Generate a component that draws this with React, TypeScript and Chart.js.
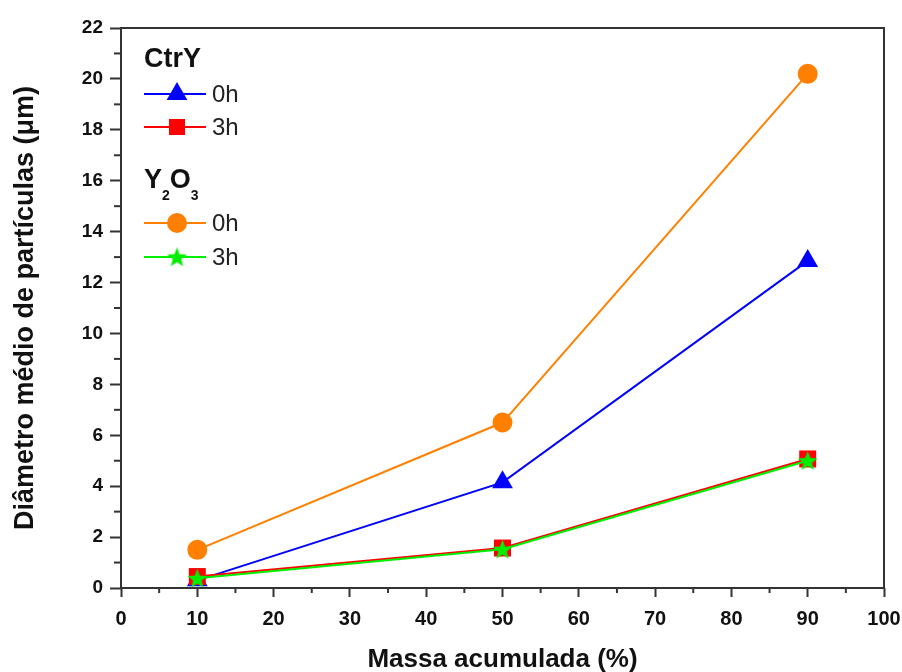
import React, { useEffect, useRef } from "react";
import { Chart, registerables } from "chart.js";

Chart.register(...registerables);

const massa = [10, 50, 90];
const ctrY0h = [0.3, 4.15, 12.85];
const ctrY3h = [0.45, 1.57, 5.07];
const y2o3_0h = [1.5, 6.5, 20.2];
const y2o3_3h = [0.38, 1.52, 5.0];
const xTicks = [0, 10, 20, 30, 40, 50, 60, 70, 80, 90, 100];
const yTicks = [0, 2, 4, 6, 8, 10, 12, 14, 16, 18, 20, 22];

const BLUE = "#0000ff";
const RED = "#ff0000";
const ORANGE = "#ff8000";
const GREEN = "#00ee00";
const AXIS = "#333333";
const FONT = "'Liberation Sans', Arial, sans-serif";

function makeStar(size: number, color: string) {
  const c = document.createElement("canvas");
  c.width = size;
  c.height = size;
  const ctx = c.getContext("2d")!;
  const cx = size / 2, cy = size / 2 + 0.8;
  const R = size / 2, r = R * 0.42;
  ctx.beginPath();
  for (let i = 0; i < 10; i++) {
    const rad = i % 2 === 0 ? R : r;
    const a = -Math.PI / 2 + (i * Math.PI) / 5;
    const px = cx + rad * Math.cos(a), py = cy + rad * Math.sin(a);
    if (i === 0) ctx.moveTo(px, py); else ctx.lineTo(px, py);
  }
  ctx.closePath();
  ctx.fillStyle = color;
  ctx.fill();
  return c;
}

function drawMarker(ctx: CanvasRenderingContext2D, style: string, x: number, y: number, color: string, star: HTMLCanvasElement) {
  ctx.save();
  ctx.fillStyle = color;
  if (style === "triangle") {
    const r = 12;
    ctx.beginPath();
    for (let i = 0; i < 3; i++) {
      const a = -Math.PI / 2 + (i * 2 * Math.PI) / 3;
      const px = x + r * Math.cos(a), py = y + r * Math.sin(a);
      if (i === 0) ctx.moveTo(px, py); else ctx.lineTo(px, py);
    }
    ctx.closePath();
    ctx.fill();
  } else if (style === "rect") {
    ctx.fillRect(x - 8, y - 8, 16, 16);
  } else if (style === "circle") {
    ctx.beginPath();
    ctx.arc(x, y, 10, 0, Math.PI * 2);
    ctx.fill();
  } else {
    ctx.drawImage(star, x - star.width / 2, y - star.height / 2);
  }
  ctx.restore();
}

export default function App() {
  const ref = useRef<HTMLCanvasElement>(null);
  useEffect(() => {
    document.body.style.margin = "0";
    const star = makeStar(21, GREEN);
    const legendPlugin = {
      id: "customLegend",
      afterDraw(chart: any) {
        const ctx = chart.ctx as CanvasRenderingContext2D;
        const x0 = 144;
        ctx.save();
        ctx.fillStyle = "#111";
        ctx.textBaseline = "alphabetic";
        ctx.textAlign = "left";
        ctx.font = `bold 27px ${FONT}`;
        ctx.fillText("CtrY", x0, 67);
        let x = x0;
        const hy = 188;
        ctx.font = `bold 27px ${FONT}`;
        ctx.fillText("Y", x, hy); x += ctx.measureText("Y").width;
        ctx.font = `bold 14px ${FONT}`;
        ctx.fillText("2", x, hy + 12); x += ctx.measureText("2").width;
        ctx.font = `bold 27px ${FONT}`;
        ctx.fillText("O", x, hy); x += ctx.measureText("O").width;
        ctx.font = `bold 14px ${FONT}`;
        ctx.fillText("3", x, hy + 12);
        const rows = [
          { y: 94, color: BLUE, style: "triangle", label: "0h" },
          { y: 127, color: RED, style: "rect", label: "3h" },
          { y: 223, color: ORANGE, style: "circle", label: "0h" },
          { y: 257, color: GREEN, style: "star", label: "3h" },
        ];
        rows.forEach((r) => {
          ctx.strokeStyle = r.color;
          ctx.lineWidth = 2;
          ctx.beginPath();
          ctx.moveTo(x0, r.y);
          ctx.lineTo(x0 + 62, r.y);
          ctx.stroke();
          drawMarker(ctx, r.style, x0 + 33, r.y, r.color, star);
          ctx.fillStyle = "#222";
          ctx.font = `24px ${FONT}`;
          ctx.textBaseline = "middle";
          ctx.fillText(r.label, x0 + 68, r.y + 1);
        });
        ctx.restore();
      },
    };
    const framePlugin = {
      id: "frame",
      afterDatasetsDraw(chart: any) {
        const ctx = chart.ctx as CanvasRenderingContext2D;
        const a = chart.chartArea;
        const xs = chart.scales.x, ys = chart.scales.y;
        ctx.save();
        ctx.strokeStyle = AXIS;
        ctx.lineWidth = 2;
        ctx.strokeRect(a.left, a.top, a.right - a.left, a.bottom - a.top);
        for (let v = 5; v < 100; v += 10) {
          const px = xs.getPixelForValue(v);
          ctx.beginPath();
          ctx.moveTo(px, a.bottom);
          ctx.lineTo(px, a.bottom + 5);
          ctx.stroke();
        }
        for (let v = 1; v < 22; v += 2) {
          const py = ys.getPixelForValue(v);
          ctx.beginPath();
          ctx.moveTo(a.left, py);
          ctx.lineTo(a.left - 7, py);
          ctx.stroke();
        }
        ctx.restore();
      },
    };
    const mk = (label: string, data: number[], color: string, style: any, radius: number, order: number) => ({
      label,
      data: data.map((v, i) => ({ x: massa[i], y: v })),
      borderColor: color,
      backgroundColor: color,
      borderWidth: 2,
      pointStyle: style,
      pointRadius: radius,
      pointBorderWidth: 0,
      pointBorderColor: color,
      pointBackgroundColor: color,
      tension: 0,
      order,
    });
    const chart = new Chart(ref.current!, {
      type: "line",
      data: {
        datasets: [
          mk("Y2O3 0h", y2o3_0h, ORANGE, "circle", 10, 3),
          mk("CtrY 0h", ctrY0h, BLUE, "triangle", 12, 2),
          mk("CtrY 3h", ctrY3h, RED, "rect", 12, 1),
          mk("Y2O3 3h", y2o3_3h, GREEN, star, 10, 0),
        ],
      },
      options: {
        animation: false,
        responsive: false,
        maintainAspectRatio: false,
        layout: { padding: { left: 0, right: 18, top: 28, bottom: 0 } },
        plugins: { legend: { display: false }, tooltip: { enabled: false } },
        scales: {
          x: {
            type: "linear",
            min: 0,
            max: 100,
            afterBuildTicks: (s: any) => { s.ticks = xTicks.map((v) => ({ value: v })); },
            afterFit: (s: any) => { s.height = 84; s.paddingRight = 0; s.paddingLeft = 0; },
            grid: { drawOnChartArea: false, drawTicks: true, tickLength: 9, tickColor: AXIS, tickWidth: 2 },
            border: { display: false },
            ticks: { color: "#111", font: { family: FONT, size: 20, weight: "bold" }, padding: 10, maxRotation: 0 },
            title: { display: true, text: "Massa acumulada (%)", color: "#111", font: { family: FONT, size: 26, weight: "bold" }, padding: { top: 0, bottom: -3 } },
          },
          y: {
            type: "linear",
            min: 0,
            max: 22,
            afterBuildTicks: (s: any) => { s.ticks = yTicks.map((v) => ({ value: v })); },
            afterFit: (s: any) => { s.width = 121; s.paddingTop = 0; s.paddingBottom = 0; },
            grid: { drawOnChartArea: false, drawTicks: true, tickLength: 11, tickColor: AXIS, tickWidth: 2 },
            border: { display: false },
            ticks: { color: "#111", font: { family: FONT, size: 19, weight: "bold" }, padding: 7 },
            title: { display: true, text: "Diâmetro médio de partículas (μm)", color: "#111", font: { family: FONT, size: 27, weight: "bold" }, padding: { top: 9, bottom: 0 } },
          },
        },
      },
      plugins: [framePlugin, legendPlugin],
    });
    return () => chart.destroy();
  }, []);
  return (
    <div style={{ width: 902, height: 672, background: "#fff" }}>
      <canvas ref={ref} width={902} height={672} style={{ display: "block" }} />
    </div>
  );
}
